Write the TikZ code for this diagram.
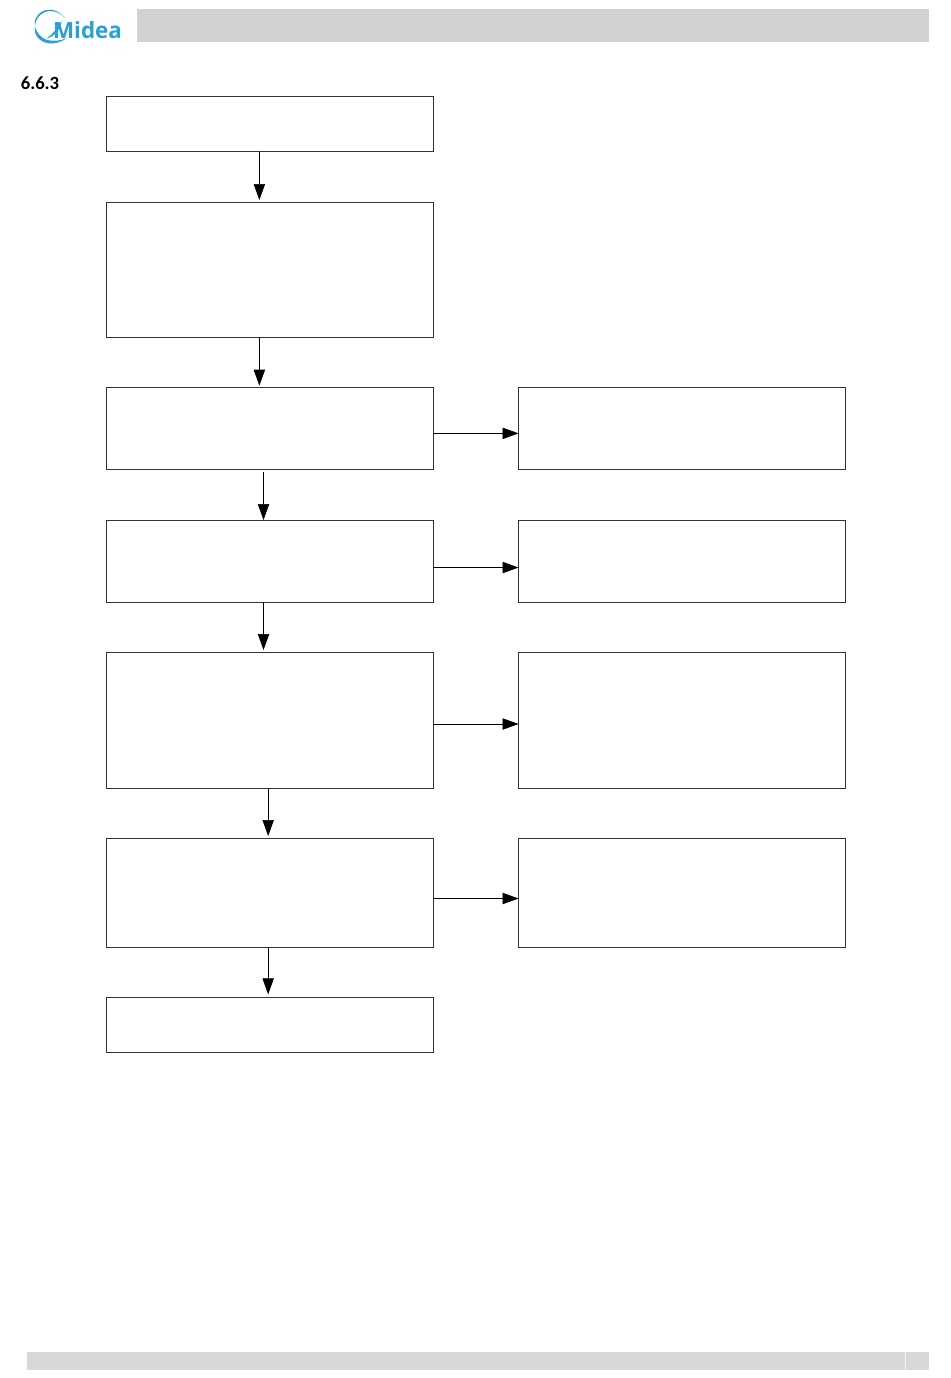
\documentclass[tikz,border=0pt]{standalone}
\usepackage{fontspec}
\setmainfont{Carlito}
\newfontfamily\logofont{Open Sans}
\usetikzlibrary{arrows.meta}
\definecolor{midea}{HTML}{2A9FD8}
\definecolor{barhead}{HTML}{D2D2D2}
\definecolor{barfoot}{HTML}{D8D8D8}
\tikzset{
  flowbox/.style={draw=black!80,line width=0.55pt,minimum width=245.25pt,inner sep=0pt,outer sep=0pt},
  flowarrow/.style={draw=black,line width=0.55pt,-{Triangle[length=12pt,width=8.5pt]}},
}

\begin{document}
\begin{tikzpicture}[x=0.75pt,y=-0.75pt]
\useasboundingbox (0,0) rectangle (950,1378);

% header and footer
\fill[barhead] (137,8.5) rectangle (929,42);
\fill[barfoot] (27,1351.5) rectangle (929,1370);
\draw[white!70!barfoot,line width=0.6pt] (905.5,1351.5) -- (905.5,1370);

% logo
\fill[midea] (66,19.5) .. controls (60,11) and (52,8.5) .. (46,10) .. controls (38,12) and (33,20) .. (35,27)
  .. controls (35,19) and (41,12) .. (49,11) .. controls (56,10.5) and (62,14) .. (66,19.5) -- cycle;
\fill[midea] (35,27) .. controls (33,36) and (42,44) .. (52,43.5) .. controls (58,43) and (63,41) .. (67,38)
  .. controls (60,41) and (54,41.5) .. (47,40) .. controls (41,38) and (37,33) .. (35,27) -- cycle;
\fill[midea] (46,38.5) .. controls (53,35) and (57,27) .. (62,21) .. controls (60,29) and (55,37) .. (46,38.5) -- cycle;
\node[text=midea,font=\logofont\bfseries\fontsize{16.8pt}{16.8pt}\selectfont,inner sep=0pt] (logo) at (87.5,30) {Midea};

% section number
\node[font=\bfseries\fontsize{14pt}{14pt}\selectfont,inner sep=0pt] (secnum) at (40,83.5) {6.6.3};

% left column
\node[flowbox,minimum height=41.25pt] (s1) at (269.5,124) {};
\node[flowbox,minimum height=101.25pt] (s2) at (269.5,269.5) {};
\node[flowbox,minimum height=61.5pt] (s3) at (269.5,428.7) {};
\node[flowbox,minimum height=61.5pt] (s4) at (269.5,561) {};
\node[flowbox,minimum height=102pt] (s5) at (269.5,720) {};
\node[flowbox,minimum height=81.75pt] (s6) at (269.5,892.5) {};
\node[flowbox,minimum height=41.25pt] (s7) at (269.5,1024.5) {};

% right column
\node[flowbox,minimum height=61.5pt] (r3) at (681.5,428.7) {};
\node[flowbox,minimum height=61.5pt] (r4) at (681.5,561) {};
\node[flowbox,minimum height=102pt] (r5) at (681.5,720) {};
\node[flowbox,minimum height=81.75pt] (r6) at (681.5,892.5) {};

% arrows down
\draw[flowarrow] ([xshift=-7.6pt]s1.south) -- ([xshift=-7.6pt,yshift=1.5pt]s2.north);
\draw[flowarrow] ([xshift=-7.6pt]s2.south) -- ([xshift=-7.6pt,yshift=1.5pt]s3.north);
\draw[flowarrow] ([xshift=-4.5pt,yshift=-1.5pt]s3.south) -- ([xshift=-4.5pt]s4.north);
\draw[flowarrow] ([xshift=-4.5pt]s4.south) -- ([xshift=-4.5pt,yshift=1.5pt]s5.north);
\draw[flowarrow] ([xshift=-1pt]s5.south) -- ([xshift=-1pt,yshift=1.5pt]s6.north);
\draw[flowarrow] ([xshift=-1pt]s6.south) -- ([xshift=-1pt,yshift=2pt]s7.north);

% arrows across
\draw[flowarrow] ([yshift=-3.5pt]s3.east) -- ([xshift=0.4pt,yshift=-3.5pt]r3.west);
\draw[flowarrow] ([yshift=-4.9pt]s4.east) -- ([xshift=0.4pt,yshift=-4.9pt]r4.west);
\draw[flowarrow] ([yshift=-3pt]s5.east) -- ([xshift=0.4pt,yshift=-3pt]r5.west);
\draw[flowarrow] ([yshift=-4.5pt]s6.east) -- ([xshift=0.4pt,yshift=-4.5pt]r6.west);
\end{tikzpicture}
\end{document}
